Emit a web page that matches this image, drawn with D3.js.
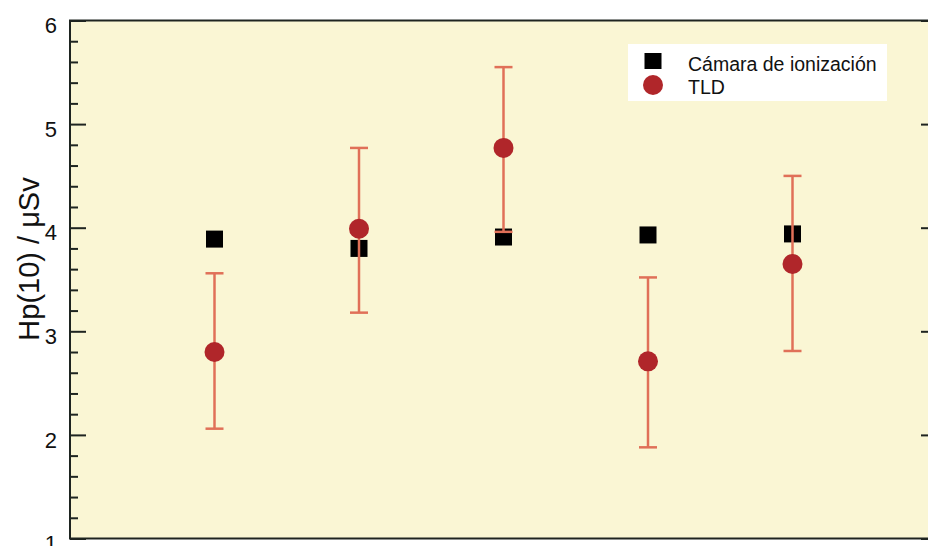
<!DOCTYPE html>
<html>
<head>
<meta charset="utf-8">
<script src="https://cdn.jsdelivr.net/npm/d3@7"></script>
<style>
  html, body { margin: 0; padding: 0; background: #fff; }
  svg { display: block; font-family: "Liberation Sans", Arial, Helvetica, sans-serif; }
</style>
</head>
<body>
<svg id="chart" width="928" height="546"></svg>
<script>
// five measurement points, Hp(10) in µSv
const points = [1, 2, 3, 4, 5];
const chamberValues = [3.89, 3.80, 3.91, 3.93, 3.94];
const tldValues = [2.80, 3.99, 4.77, 2.71, 3.65];
const tldLower = [2.06, 3.18, 3.96, 1.88, 2.81];
const tldUpper = [3.56, 4.77, 5.55, 3.52, 4.50];
const yTicks = [1, 2, 3, 4, 5, 6];
const legendLabels = ["Cámara de ionización", "TLD"];

const svg = d3.select("#chart");

const plot = { left: 70, right: 937, top: 20.5, bottom: 538.5 };

const x = d3.scaleLinear().domain([0, 6]).range([plot.left, plot.right]);
const y = d3.scaleLinear().domain([1, 6]).range([plot.bottom, plot.top]);

const frameColor = "#1e2420";
const barColor = "#e07058";
const dotColor = "#b0262a";

// plot background
svg.append("rect")
  .attr("x", plot.left)
  .attr("y", plot.top)
  .attr("width", plot.right - plot.left)
  .attr("height", plot.bottom - plot.top)
  .attr("fill", "#faf6d4");

// minor ticks (0.2 steps)
const minorTicks = d3.range(1, 6.001, 0.2).map((v) => +v.toFixed(1)).filter((v) => !yTicks.includes(v));

svg.append("g")
  .attr("transform", `translate(${plot.left},0)`)
  .call(d3.axisRight(y).tickValues(minorTicks).tickSize(8).tickFormat("").tickSizeOuter(0))
  .call((g) => g.select(".domain").remove())
  .call((g) => g.selectAll("line").attr("stroke", frameColor).attr("stroke-width", 2));

svg.append("g")
  .attr("transform", `translate(${plot.right},0)`)
  .call(d3.axisLeft(y).tickValues(minorTicks).tickSize(8).tickFormat("").tickSizeOuter(0))
  .call((g) => g.select(".domain").remove())
  .call((g) => g.selectAll("line").attr("stroke", frameColor).attr("stroke-width", 2));

// major ticks with labels
const leftAxis = svg.append("g")
  .attr("transform", `translate(${plot.left},0)`)
  .call(d3.axisLeft(y).tickValues(yTicks).tickSize(-16).tickPadding(13).tickFormat(d3.format("d")).tickSizeOuter(0));

leftAxis.select(".domain").remove();
leftAxis.selectAll("line").attr("stroke", frameColor).attr("stroke-width", 2);
leftAxis.selectAll("text")
  .attr("fill", "#111")
  .attr("font-size", 22)
  .attr("dy", "0.55em");

svg.append("g")
  .attr("transform", `translate(${plot.right},0)`)
  .call(d3.axisRight(y).tickValues(yTicks).tickSize(-16).tickFormat("").tickSizeOuter(0))
  .call((g) => g.select(".domain").remove())
  .call((g) => g.selectAll("line").attr("stroke", frameColor).attr("stroke-width", 2));

// frame
svg.append("rect")
  .attr("x", plot.left)
  .attr("y", plot.top)
  .attr("width", plot.right - plot.left)
  .attr("height", plot.bottom - plot.top)
  .attr("fill", "none")
  .attr("stroke", frameColor)
  .attr("stroke-width", 2);

// y label
svg.append("text")
  .attr("transform", `translate(39,259) rotate(-90)`)
  .attr("text-anchor", "middle")
  .attr("font-size", 29)
  .attr("fill", "#111")
  .text("Hp(10) / μSv");

const rows = points.map((p, i) => ({
  p,
  chamber: chamberValues[i],
  tld: tldValues[i],
  low: tldLower[i],
  high: tldUpper[i],
}));

const squareSize = 17;
const capHalf = 9;

// ionization chamber squares
svg.append("g")
  .selectAll("rect")
  .data(rows)
  .join("rect")
  .attr("x", (d) => x(d.p) - squareSize / 2)
  .attr("y", (d) => y(d.chamber) - squareSize / 2)
  .attr("width", squareSize)
  .attr("height", squareSize)
  .attr("fill", "#000");

// TLD error bars
const bars = svg.append("g")
  .attr("stroke", barColor)
  .attr("stroke-width", 2.5)
  .selectAll("g")
  .data(rows)
  .join("g");

bars.append("line")
  .attr("x1", (d) => x(d.p))
  .attr("x2", (d) => x(d.p))
  .attr("y1", (d) => y(d.low))
  .attr("y2", (d) => y(d.high));

bars.append("line")
  .attr("x1", (d) => x(d.p) - capHalf)
  .attr("x2", (d) => x(d.p) + capHalf)
  .attr("y1", (d) => y(d.high))
  .attr("y2", (d) => y(d.high));

bars.append("line")
  .attr("x1", (d) => x(d.p) - capHalf)
  .attr("x2", (d) => x(d.p) + capHalf)
  .attr("y1", (d) => y(d.low))
  .attr("y2", (d) => y(d.low));

// TLD dots
svg.append("g")
  .selectAll("circle")
  .data(rows)
  .join("circle")
  .attr("cx", (d) => x(d.p))
  .attr("cy", (d) => y(d.tld))
  .attr("r", 10)
  .attr("fill", dotColor);

// legend
const legend = svg.append("g").attr("transform", "translate(628,44)");

legend.append("rect")
  .attr("width", 259)
  .attr("height", 57)
  .attr("fill", "#fff");

legend.append("rect")
  .attr("x", 25 - 8.5)
  .attr("y", 17 - 8)
  .attr("width", 17)
  .attr("height", 16)
  .attr("fill", "#000");

legend.append("circle")
  .attr("cx", 25)
  .attr("cy", 41)
  .attr("r", 10)
  .attr("fill", dotColor);

legend.selectAll("text")
  .data(legendLabels)
  .join("text")
  .attr("x", 60)
  .attr("y", (d, i) => 26.5 + i * 23.5)
  .attr("font-size", 19.5)
  .attr("fill", "#111")
  .text((d) => d);
</script>
</body>
</html>
